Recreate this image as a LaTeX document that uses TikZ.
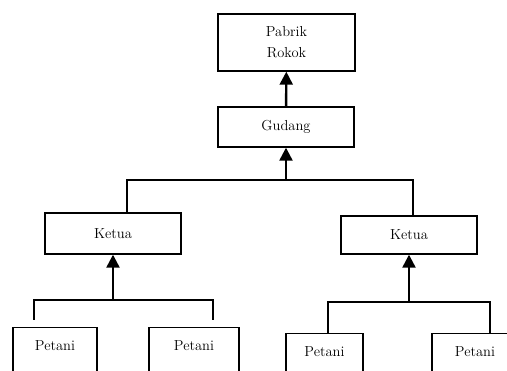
\documentclass[tikz,border=0pt]{standalone}
\usetikzlibrary{arrows.meta}
\tikzset{box/.style={draw,line width=1.4pt,minimum height=38pt,inner sep=0pt,align=center,font=\fontsize{14.5}{21}\selectfont},
unit/.style={box,anchor=north,text height=23pt,text depth=27pt},
bus/.style={line width=1.4pt},
up/.style={line width=2.4pt,-{Triangle[width=13pt,length=13pt]}}}
\begin{document}
\begin{tikzpicture}[x=1pt,y=-1pt]
\useasboundingbox(0,0)rectangle(507,371);\clip(0,0)rectangle(507,371);
\node[box,minimum width=137pt,minimum height=57pt](pabrik)at(286.5,42.5){Pabrik\\Rokok};
\node[box,minimum width=136pt,minimum height=40pt](gudang)at(286,127){Gudang};
\node[box,minimum width=136pt,minimum height=41pt](ketuaL)at(113,233.5){Ketua};
\node[box,minimum width=136pt](ketuaR)at(409,235){Ketua};
% petani, bawah terpotong
\node[unit,minimum width=84pt](petaniA)at(55,327){Petani};\node[unit,minimum width=90pt](petaniB)at(194,327){Petani};
\node[unit,minimum width=77pt](petaniC)at(324.5,333){Petani};\node[unit,minimum width=86pt](petaniD)at(475,333){Petani};
% jalur
\coordinate(busA)at(127,180);\coordinate(busB)at(413,180);\coordinate(busG)at(gudang.south|-busA);
\draw[bus](ketuaL.north-|busA)--(busA)--(busB)--(ketuaR.north-|busB);
\coordinate(busL)at(ketuaL.south|-0,300);\coordinate(busR)at(ketuaR.south|-0,302);
\coordinate(busC)at(328,302);\coordinate(busD)at(490,302);
\draw[bus](34,320)--(34,300)--(213,300)--(213,320);
\draw[bus](petaniC.north-|busC)--(busC)--(busD)--(petaniD.north-|busD);
\draw[up](busG)--(gudang.south);\draw[up](gudang)--(pabrik);
\draw[up](busL)--(ketuaL.south);\draw[up](busR)--(ketuaR.south);
\end{tikzpicture}
\end{document}
